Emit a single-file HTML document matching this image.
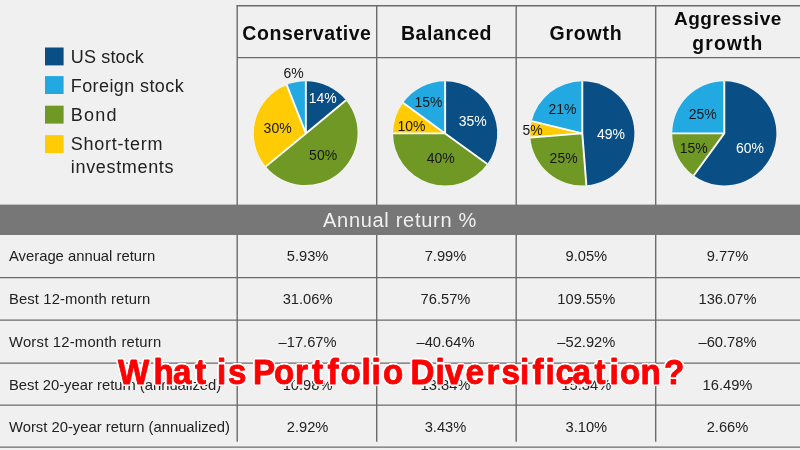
<!DOCTYPE html>
<html lang="en"><head><meta charset="utf-8"><title>What is Portfolio Diversification?</title>
<style>html,body{margin:0;padding:0;background:#f0f0f0;overflow:hidden}body{width:800px;height:450px}</style></head>
<body>
<svg width="800" height="450" viewBox="0 0 800 450" style="display:block;font-family:'Liberation Sans',sans-serif">
<rect width="800" height="450" fill="#f0f0f0"/>
<g stroke="#6b6b6b" stroke-width="1.4" fill="none">
<path d="M236.5 5.8H800M237.2 57.6H800"/>
<path d="M237.2 5.8V441.8"/>
<path d="M376.7 5.8V441.8"/>
<path d="M516.2 5.8V441.8"/>
<path d="M655.7 5.8V441.8"/>
<path d="M0 277.6H800"/>
<path d="M0 320.1H800"/>
<path d="M0 363.1H800"/>
<path d="M0 405.1H800"/>
<path d="M0 447.1H800"/>
</g>
<rect x="0" y="204.6" width="800" height="30.4" fill="#777"/>
<text x="400" y="227" text-anchor="middle" font-size="20" letter-spacing="0.7" fill="#f0f0f0">Annual return %</text>
<rect x="45" y="47.5" width="18.6" height="17.9" fill="#094e85"/>
<text x="70.8" y="62.6" font-size="18" letter-spacing="0.15" fill="#222">US stock</text>
<rect x="45" y="76.1" width="18.6" height="17.9" fill="#22a9e1"/>
<text x="70.8" y="91.6" font-size="18" letter-spacing="0.4" fill="#222">Foreign stock</text>
<rect x="45" y="105.7" width="18.6" height="17.9" fill="#6f9924"/>
<text x="70.8" y="121.2" font-size="18" letter-spacing="1.2" fill="#222">Bond</text>
<rect x="45" y="135.1" width="18.6" height="17.9" fill="#ffcb05"/>
<text x="70.8" y="149.9" font-size="18" letter-spacing="0.75" fill="#222">Short-term</text>
<text x="70.8" y="172.9" font-size="18" letter-spacing="0.67" fill="#222">investments</text>
<text x="306.9" y="39.8" text-anchor="middle" font-size="19.5" font-weight="700" letter-spacing="0.55" fill="#0c0c0c">Conservative</text>
<text x="446.5" y="39.8" text-anchor="middle" font-size="19.5" font-weight="700" letter-spacing="0.55" fill="#0c0c0c">Balanced</text>
<text x="586.0" y="39.8" text-anchor="middle" font-size="19.5" font-weight="700" letter-spacing="0.8" fill="#0c0c0c">Growth</text>
<text x="727.9" y="24.7" text-anchor="middle" font-size="19" font-weight="700" letter-spacing="0.55" fill="#0c0c0c">Aggressive</text>
<text x="727.9" y="49.6" text-anchor="middle" font-size="19.3" font-weight="700" letter-spacing="1.15" fill="#0c0c0c">growth</text>
<circle cx="305.85" cy="133.4" r="52.4" fill="#fff" opacity="0.75"/>
<path d="M305.85 133.40L305.85 81.30A52.1 52.1 0 0 1 345.99 100.19Z" fill="#094e85"/>
<path d="M305.85 133.40L345.99 100.19A52.1 52.1 0 0 1 265.71 166.61Z" fill="#6f9924"/>
<path d="M305.85 133.40L265.71 166.61A52.1 52.1 0 0 1 286.67 84.96Z" fill="#ffcb05"/>
<path d="M305.85 133.40L286.67 84.96A52.1 52.1 0 0 1 305.85 81.30Z" fill="#22a9e1"/>
<path d="M305.85 133.40L305.85 81.30M305.85 133.40L345.99 100.19M305.85 133.40L265.71 166.61M305.85 133.40L286.67 84.96" stroke="#fff" stroke-width="1.9" stroke-linecap="butt" fill="none"/>
<circle cx="445.15" cy="133.4" r="52.4" fill="#fff" opacity="0.75"/>
<path d="M445.15 133.40L445.15 81.30A52.1 52.1 0 0 1 487.30 164.02Z" fill="#094e85"/>
<path d="M445.15 133.40L487.30 164.02A52.1 52.1 0 0 1 393.05 133.40Z" fill="#6f9924"/>
<path d="M445.15 133.40L393.05 133.40A52.1 52.1 0 0 1 403.00 102.78Z" fill="#ffcb05"/>
<path d="M445.15 133.40L403.00 102.78A52.1 52.1 0 0 1 445.15 81.30Z" fill="#22a9e1"/>
<path d="M445.15 133.40L445.15 81.30M445.15 133.40L487.30 164.02M445.15 133.40L393.05 133.40M445.15 133.40L403.00 102.78" stroke="#fff" stroke-width="1.9" stroke-linecap="butt" fill="none"/>
<circle cx="582.3" cy="133.4" r="52.4" fill="#fff" opacity="0.75"/>
<path d="M582.30 133.40L582.30 81.30A52.1 52.1 0 0 1 586.39 185.34Z" fill="#094e85"/>
<path d="M582.30 133.40L586.39 185.34A52.1 52.1 0 0 1 530.36 137.49Z" fill="#6f9924"/>
<path d="M582.30 133.40L530.36 137.49A52.1 52.1 0 0 1 531.68 121.08Z" fill="#ffcb05"/>
<path d="M582.30 133.40L531.68 121.08A52.1 52.1 0 0 1 582.30 81.30Z" fill="#22a9e1"/>
<path d="M582.30 133.40L582.30 81.30M582.30 133.40L586.39 185.34M582.30 133.40L530.36 137.49M582.30 133.40L531.68 121.08" stroke="#fff" stroke-width="1.9" stroke-linecap="butt" fill="none"/>
<circle cx="724.3" cy="133.4" r="52.4" fill="#fff" opacity="0.75"/>
<path d="M724.30 133.40L724.30 81.30A52.1 52.1 0 1 1 693.68 175.55Z" fill="#094e85"/>
<path d="M724.30 133.40L693.68 175.55A52.1 52.1 0 0 1 672.20 133.40Z" fill="#6f9924"/>
<path d="M724.30 133.40L672.20 133.40A52.1 52.1 0 0 1 724.30 81.30Z" fill="#22a9e1"/>
<path d="M724.30 133.40L724.30 81.30M724.30 133.40L693.68 175.55M724.30 133.40L672.20 133.40" stroke="#fff" stroke-width="1.9" stroke-linecap="butt" fill="none"/>
<text transform="translate(293.7 78) scale(0.94 1)" text-anchor="middle" font-size="14.9" fill="#161616">6%</text>
<text transform="translate(322.8 103.2) scale(0.94 1)" text-anchor="middle" font-size="14.9" fill="#fff">14%</text>
<text transform="translate(323.1 160) scale(0.94 1)" text-anchor="middle" font-size="14.9" fill="#161616">50%</text>
<text transform="translate(277.6 132.6) scale(0.94 1)" text-anchor="middle" font-size="14.9" fill="#161616">30%</text>
<text transform="translate(428.5 107.3) scale(0.94 1)" text-anchor="middle" font-size="14.9" fill="#161616">15%</text>
<text transform="translate(472.7 126) scale(0.94 1)" text-anchor="middle" font-size="14.9" fill="#fff">35%</text>
<text transform="translate(411.4 131) scale(0.94 1)" text-anchor="middle" font-size="14.9" fill="#161616">10%</text>
<text transform="translate(440.7 163.3) scale(0.94 1)" text-anchor="middle" font-size="14.9" fill="#161616">40%</text>
<text transform="translate(562.4 114.4) scale(0.94 1)" text-anchor="middle" font-size="14.9" fill="#161616">21%</text>
<text transform="translate(610.9 138.7) scale(0.94 1)" text-anchor="middle" font-size="14.9" fill="#fff">49%</text>
<text transform="translate(532.6 135.3) scale(0.94 1)" text-anchor="middle" font-size="14.9" fill="#161616">5%</text>
<text transform="translate(563.6 162.7) scale(0.94 1)" text-anchor="middle" font-size="14.9" fill="#161616">25%</text>
<text transform="translate(702.7 119.1) scale(0.94 1)" text-anchor="middle" font-size="14.9" fill="#161616">25%</text>
<text transform="translate(693.8 153.3) scale(0.94 1)" text-anchor="middle" font-size="14.9" fill="#161616">15%</text>
<text transform="translate(750 153.3) scale(0.94 1)" text-anchor="middle" font-size="14.9" fill="#fff">60%</text>
<text x="9" y="261.3" font-size="14.8" letter-spacing="0" fill="#222">Average annual return</text>
<text x="307.6" y="261.3" text-anchor="middle" font-size="14.7" fill="#222">5.93%</text>
<text x="445.5" y="261.3" text-anchor="middle" font-size="14.7" fill="#222">7.99%</text>
<text x="586.3" y="261.3" text-anchor="middle" font-size="14.7" fill="#222">9.05%</text>
<text x="727.5" y="261.3" text-anchor="middle" font-size="14.7" fill="#222">9.77%</text>
<text x="9" y="304.0" font-size="14.8" letter-spacing="0.12" fill="#222">Best 12-month return</text>
<text x="307.6" y="304.0" text-anchor="middle" font-size="14.7" fill="#222">31.06%</text>
<text x="445.5" y="304.0" text-anchor="middle" font-size="14.7" fill="#222">76.57%</text>
<text x="586.3" y="304.0" text-anchor="middle" font-size="14.7" fill="#222">109.55%</text>
<text x="727.5" y="304.0" text-anchor="middle" font-size="14.7" fill="#222">136.07%</text>
<text x="9" y="346.5" font-size="14.8" letter-spacing="0.22" fill="#222">Worst 12-month return</text>
<text x="307.6" y="346.5" text-anchor="middle" font-size="14.7" fill="#222">–17.67%</text>
<text x="445.5" y="346.5" text-anchor="middle" font-size="14.7" fill="#222">–40.64%</text>
<text x="586.3" y="346.5" text-anchor="middle" font-size="14.7" fill="#222">–52.92%</text>
<text x="727.5" y="346.5" text-anchor="middle" font-size="14.7" fill="#222">–60.78%</text>
<text x="9" y="389.5" font-size="14.8" letter-spacing="0" fill="#222">Best 20-year return (annualized)</text>
<text x="307.6" y="389.5" text-anchor="middle" font-size="14.7" fill="#222">10.98%</text>
<text x="445.5" y="389.5" text-anchor="middle" font-size="14.7" fill="#222">13.84%</text>
<text x="586.3" y="389.5" text-anchor="middle" font-size="14.7" fill="#222">15.34%</text>
<text x="727.5" y="389.5" text-anchor="middle" font-size="14.7" fill="#222">16.49%</text>
<text x="9" y="431.5" font-size="14.8" letter-spacing="0" fill="#222">Worst 20-year return (annualized)</text>
<text x="307.6" y="431.5" text-anchor="middle" font-size="14.7" fill="#222">2.92%</text>
<text x="445.5" y="431.5" text-anchor="middle" font-size="14.7" fill="#222">3.43%</text>
<text x="586.3" y="431.5" text-anchor="middle" font-size="14.7" fill="#222">3.10%</text>
<text x="727.5" y="431.5" text-anchor="middle" font-size="14.7" fill="#222">2.66%</text>
<defs><filter id="ol" x="-5%" y="-30%" width="110%" height="160%" color-interpolation-filters="sRGB"><feGaussianBlur in="SourceAlpha" stdDeviation="1.6" result="b"/><feComponentTransfer in="b" result="t"><feFuncA type="linear" slope="14" intercept="-1.05"/></feComponentTransfer><feFlood flood-color="#ffffff"/><feComposite in2="t" operator="in"/><feMerge><feMergeNode/><feMergeNode in="SourceGraphic"/></feMerge></filter></defs>
<text transform="scale(0.96 1)" x="122.92 159.90 180.21 203.12 218.75 226.04 237.50 253.12 263.54 285.42 307.29 325.00 341.15 354.69 376.56 386.98 398.96 414.58 427.60 453.65 463.54 484.90 506.77 522.40 541.67 554.69 568.23 578.65 596.35 619.27 634.90 645.83 667.19 691.67" y="384" font-size="34.5" font-weight="700" stroke-linejoin="round" fill="#ff0000" stroke="#ff0000" stroke-width="0.9" filter="url(#ol)">What is Portfolio Diversification?</text>
</svg>
</body></html>
